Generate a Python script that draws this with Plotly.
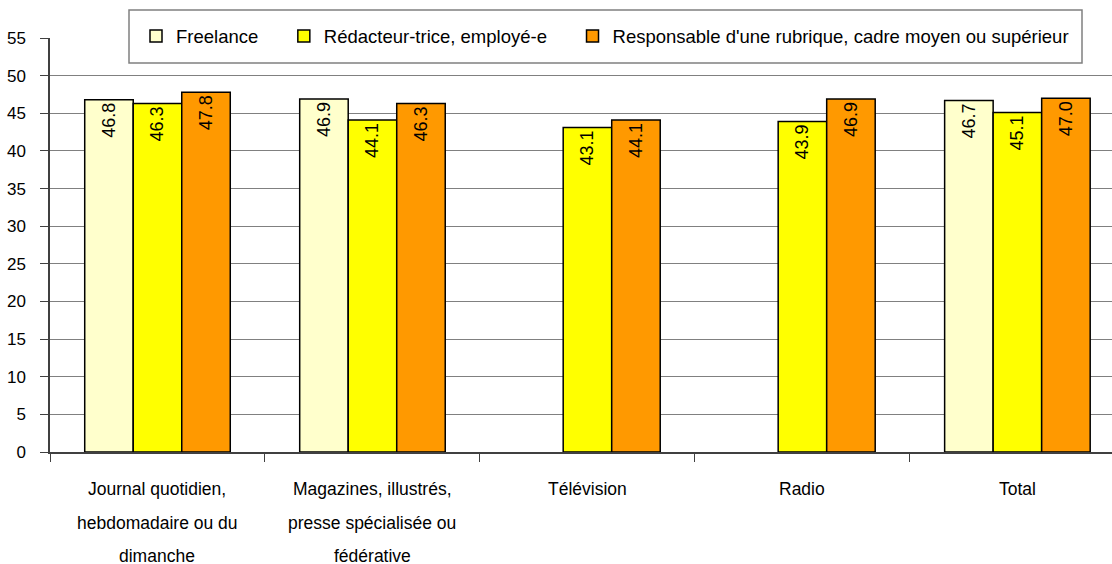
import plotly.graph_objects as go

categories = [
    "Journal quotidien,\nhebdomadaire ou du\ndimanche",
    "Magazines, illustrés,\npresse spécialisée ou\nfédérative",
    "Télévision",
    "Radio",
    "Total",
]
series_names = [
    "Freelance",
    "Rédacteur-trice, employé-e",
    "Responsable d'une rubrique, cadre moyen ou supérieur",
]
freelance = [46.8, 46.9, None, None, 46.7]
redacteur = [46.3, 44.1, 43.1, 43.9, 45.1]
responsable = [47.8, 46.3, 44.1, 46.9, 47.0]
y_ticks = list(range(0, 56, 5))

colors = ["#FFFFCC", "#FFFF00", "#FF9900"]
FONT = "Liberation Sans, Arial, sans-serif"

W, H = 1112, 564
ML, MR, MT, MB = 50, 0, 38, 112
PW, PH = W - ML - MR, H - MT - MB

fig = go.Figure()
for name, vals, col in zip(series_names, [freelance, redacteur, responsable], colors):
    fig.add_trace(go.Bar(
        x=categories, y=vals, name=name + "\u00a0" * 4,
        marker=dict(color=col, line=dict(color="#000000", width=1.5)),
        text=[f"{v:.1f}" if v is not None else "" for v in vals],
        textposition="inside", insidetextanchor="end", textangle=-90,
        textfont=dict(family=FONT, size=18, color="#000000"),
        constraintext="none",
    ))

for cat in categories:
    for j, line in enumerate(cat.split("\n")):
        fig.add_annotation(
            x=cat, y=0, xref="x", yref="paper", text=line, showarrow=False,
            yanchor="middle", xanchor="center", yshift=-37 - 33.5 * j,
            font=dict(family=FONT, size=17.5, color="#000000"),
        )

# legend frame
lx0, lx1, ly0, ly1 = 129, 1082, 10, 63
fig.add_shape(
    type="rect", xref="paper", yref="paper", layer="above",
    x0=(lx0 - ML) / PW, x1=(lx1 - ML) / PW,
    y0=(H - MB - ly1) / PH, y1=(H - MB - ly0) / PH,
    fillcolor="white", line=dict(color="#808080", width=1.5),
)

fig.update_layout(
    width=W, height=H,
    margin=dict(l=ML, r=MR, t=MT, b=MB, autoexpand=False),
    paper_bgcolor="white", plot_bgcolor="white",
    barmode="group", bargap=0.323, bargroupgap=0,
    font=dict(family=FONT, size=17, color="#000000"),
    showlegend=True,
    legend=dict(
        orientation="h", x=(136 - ML) / PW, xanchor="left",
        y=(H - MB - 36.5) / PH, yanchor="middle",
        bgcolor="rgba(0,0,0,0)", borderwidth=0,
        font=dict(family=FONT, size=18.5, color="#000000"),
    ),
    xaxis=dict(
        type="category", range=[-0.5, 4.44], showticklabels=False,
        tickson="boundaries", ticks="outside", ticklen=8,
        tickcolor="#404040", showline=True, linecolor="#404040", linewidth=2,
        showgrid=False, zeroline=False,
    ),
    yaxis=dict(
        range=[0, 55], tickvals=y_ticks, ticks="outside", ticklen=8,
        ticklabelstandoff=11,
        tickcolor="#404040", showline=True, linecolor="#404040", linewidth=1.5,
        showgrid=True, gridcolor="#808080", gridwidth=1, zeroline=False,
        tickfont=dict(family=FONT, size=17, color="#000000"),
    ),
)

fig.write_html(
    "out.html",
    config={"displayModeBar": False},
    post_script="document.body.style.margin='0';document.body.style.overflow='hidden';",
)
